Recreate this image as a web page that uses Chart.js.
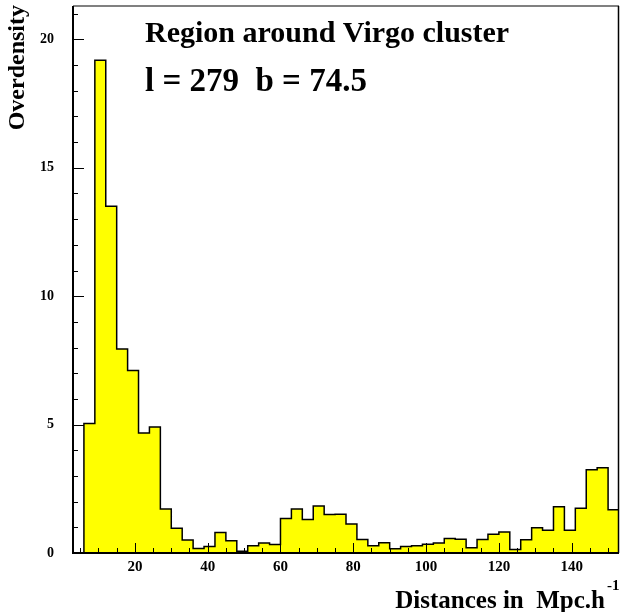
<!DOCTYPE html>
<html>
<head>
<meta charset="utf-8">
<script src="https://cdn.jsdelivr.net/npm/chart.js@4.4.1/dist/chart.umd.min.js"></script>
<style>
  html, body { margin: 0; padding: 0; background: #fff; }
  #wrap { width: 620px; height: 612px; position: relative; }
</style>
</head>
<body>
<div id="wrap"><canvas id="chart"></canvas></div>
<script>
// histogram: 50 bins of 3 Mpc/h starting at 3
const binStart = 3;
const binWidth = 3;
const overdensity = [
  0, 5.04, 19.19, 13.5, 7.94, 7.11, 4.67, 4.91, 1.71, 0.96,
  0.51, 0.18, 0.25, 0.80, 0.48, 0.07, 0.28, 0.39, 0.33, 1.34,
  1.71, 1.30, 1.83, 1.50, 1.51, 1.13, 0.53, 0.28, 0.40, 0.17,
  0.25, 0.28, 0.34, 0.39, 0.56, 0.54, 0.20, 0.53, 0.73, 0.82,
  0.14, 0.52, 0.98, 0.89, 1.80, 0.89, 1.74, 3.24, 3.32, 1.68
];
const xTicks = [20, 40, 60, 80, 100, 120, 140];
const yTicks = [0, 5, 10, 15, 20];
const xMinor = [5, 10, 15, 25, 30, 35, 45, 50, 55, 65, 70, 75, 85, 90, 95, 105, 110, 115, 125, 130, 135, 145, 150];
const yMinor = [1, 2, 3, 4, 6, 7, 8, 9, 11, 12, 13, 14, 16, 17, 18, 19, 21];

const steps = overdensity.map((v, i) => ({ x: binStart + i * binWidth, y: v }));
steps.push({ x: binStart + overdensity.length * binWidth, y: overdensity[overdensity.length - 1] });

const SERIF = '"Liberation Serif", "Times New Roman", serif';

const noPad = (s) => {
  s.paddingTop = 0; s.paddingBottom = 0; s.paddingLeft = 0; s.paddingRight = 0;
};

const decor = {
  id: "decor",
  afterDatasetsDraw(chart) {
    const { ctx, chartArea: a, scales } = chart;
    const xs = scales.x, ys = scales.y;
    ctx.save();
    ctx.strokeStyle = "#000";
    ctx.lineWidth = 1;
    const seg = (x1, y1, x2, y2) => {
      ctx.beginPath(); ctx.moveTo(x1, y1); ctx.lineTo(x2, y2); ctx.stroke();
    };
    // inward ticks
    xTicks.forEach((v) => { const p = Math.round(xs.getPixelForValue(v)) + 0.5; seg(p, a.bottom, p, a.bottom - 10); });
    xMinor.forEach((v) => { const p = Math.round(xs.getPixelForValue(v)) + 0.5; seg(p, a.bottom, p, a.bottom - 5); });
    yTicks.forEach((v) => { const p = Math.round(ys.getPixelForValue(v)) + 0.5; seg(a.left, p, a.left + 11, p); });
    yMinor.forEach((v) => { const p = Math.round(ys.getPixelForValue(v)) + 0.5; seg(a.left, p, a.left + 5, p); });
    // frame
    ctx.strokeStyle = "#808080";
    ctx.lineWidth = 2;
    seg(a.left, a.top, a.right, a.top);
    ctx.strokeStyle = "#000";
    ctx.lineWidth = 1.5;
    seg(a.right - 0.5, a.top, a.right - 0.5, a.bottom);
    ctx.lineWidth = 2;
    seg(a.left, a.top, a.left, a.bottom + 1);
    seg(a.left - 1, a.bottom, a.right, a.bottom);

    // texts
    ctx.fillStyle = "#000";
    ctx.textBaseline = "alphabetic";
    ctx.textAlign = "left";
    ctx.font = "bold 30px " + SERIF;
    ctx.fillText("Region around Virgo cluster", 145, 42);
    ctx.font = "bold 33px " + SERIF;
    ctx.fillText("l = 279  b = 74.5", 145, 91);

    ctx.font = "bold 25px " + SERIF;
    ctx.textAlign = "right";
    ctx.fillText("Distances in  Mpc.h", 605, 608);
    ctx.font = "bold 15px " + SERIF;
    ctx.textAlign = "left";
    ctx.fillText("-1", 607, 590);

    ctx.translate(24, 5);
    ctx.rotate(-Math.PI / 2);
    ctx.font = "bold 24px " + SERIF;
    ctx.textAlign = "right";
    ctx.fillText("Overdensity", 0, 0);
    ctx.restore();
  }
};

new Chart(document.getElementById("chart"), {
  type: "line",
  data: {
    datasets: [
      {
        data: steps,
        stepped: "before",
        fill: "origin",
        backgroundColor: "#ffff00",
        borderColor: "#000",
        borderWidth: 1.5,
        pointRadius: 0,
        tension: 0
      }
    ]
  },
  options: {
    responsive: true,
    maintainAspectRatio: false,
    animation: false,
    events: [],
    layout: { padding: { top: 6, right: 1, left: 0, bottom: 0 } },
    plugins: { legend: { display: false }, tooltip: { enabled: false } },
    scales: {
      x: {
        type: "linear",
        min: 3,
        max: 153,
        afterBuildTicks: (s) => { s.ticks = xTicks.map((v) => ({ value: v })); },
        afterFit: (s) => { s.height = 59; noPad(s); },
        grid: { display: false, drawTicks: false },
        border: { display: false },
        ticks: {
          color: "#000",
          padding: 5,
          maxRotation: 0,
          font: { family: SERIF, size: 15, weight: "bold" }
        }
      },
      y: {
        min: 0,
        max: 21.3,
        afterBuildTicks: (s) => { s.ticks = yTicks.map((v) => ({ value: v })); },
        afterFit: (s) => { s.width = 73; noPad(s); },
        grid: { display: false, drawTicks: false },
        border: { display: false },
        ticks: {
          color: "#000",
          padding: 19,
          font: { family: SERIF, size: 14, weight: "bold" }
        }
      }
    }
  },
  plugins: [decor]
});
</script>
</body>
</html>
